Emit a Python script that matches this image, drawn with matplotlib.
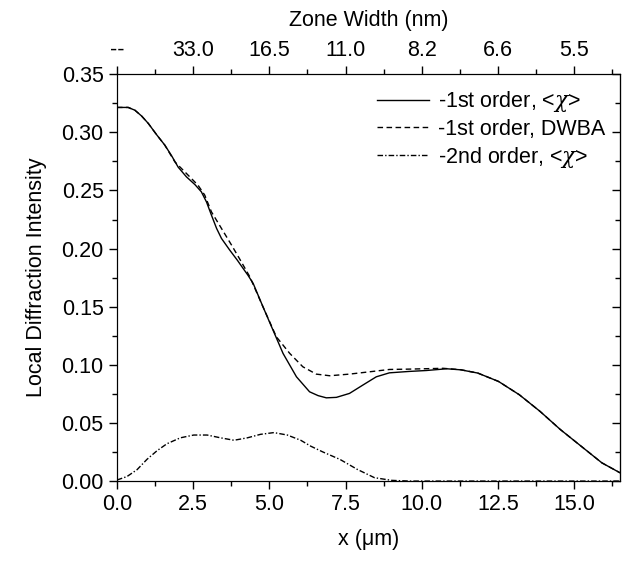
import matplotlib
matplotlib.use('Agg')
import matplotlib.pyplot as plt
from matplotlib.ticker import MultipleLocator, NullFormatter

plt.rcParams['font.family'] = ['Liberation Sans', 'DejaVu Sans']
plt.rcParams['mathtext.fontset'] = 'custom'
plt.rcParams['mathtext.it'] = 'DejaVu Serif:italic'

# -1st order, <chi>
x1 = [0.0, 0.37, 0.59, 0.81, 1.03, 1.30, 1.57, 1.79, 2.01, 2.28, 2.56, 2.77,
      2.94, 3.10, 3.27, 3.43, 3.70, 3.95, 4.14, 4.30, 4.47, 4.79, 5.12, 5.45,
      5.89, 6.32, 6.60, 6.87, 7.20, 7.63, 8.07, 8.51, 8.94, 9.58, 10.15, 10.82,
      11.28, 11.84, 12.52, 13.2, 13.88, 14.55, 15.23, 15.91, 16.5]
y1 = [0.3214, 0.3214, 0.319, 0.314, 0.3076, 0.298, 0.289, 0.280, 0.270, 0.2617,
      0.255, 0.2488, 0.240, 0.2288, 0.2173, 0.2087, 0.1987, 0.190, 0.1829,
      0.177, 0.170, 0.150, 0.1299, 0.1098, 0.0897, 0.0768, 0.0735, 0.0716,
      0.072, 0.0754, 0.0826, 0.0897, 0.0931, 0.0943, 0.0951, 0.0966, 0.0957,
      0.0929, 0.0857, 0.0743, 0.060, 0.0443, 0.030, 0.0157, 0.0072]

# -1st order, DWBA
x2 = [0.0, 0.37, 0.59, 0.81, 1.03, 1.30, 1.57, 1.9, 2.28, 2.66, 2.88, 3.10,
      3.43, 3.76, 4.05, 4.36, 4.79, 5.23, 5.67, 6.10, 6.54, 6.98, 7.63, 8.29,
      8.94, 9.58, 10.7, 11.28, 11.84, 12.52, 13.2, 13.88, 14.55, 15.23, 15.91,
      16.5]
y2 = [0.3214, 0.3214, 0.319, 0.314, 0.3076, 0.298, 0.289, 0.2746, 0.2646,
      0.2545, 0.246, 0.2316, 0.2173, 0.2030, 0.190, 0.1757, 0.150, 0.1241,
      0.1098, 0.0983, 0.092, 0.0906, 0.092, 0.094, 0.096, 0.0963, 0.0970,
      0.0958, 0.0929, 0.0857, 0.0743, 0.060, 0.0443, 0.030, 0.0157, 0.0072]

# -2nd order, <chi>
x3 = [0.0, 0.33, 0.66, 0.99, 1.32, 1.64, 2.08, 2.52, 2.96, 3.40, 3.84, 4.28,
      4.71, 5.15, 5.59, 6.03, 6.36, 6.76, 7.32, 7.89, 8.45, 9.02, 9.6, 12.0,
      16.5]
y3 = [0.0009, 0.0039, 0.0098, 0.0188, 0.0262, 0.0321, 0.0372, 0.0396, 0.0396,
      0.0372, 0.0351, 0.0372, 0.0402, 0.0417, 0.0396, 0.0351, 0.0300, 0.0250,
      0.0186, 0.010, 0.0029, 0.0006, 0.0, 0.0, 0.0]

top_ticks = [0, 2.5, 5, 7.5, 10, 12.5, 15]
top_labels = ['--', '33.0', '16.5', '11.0', '8.2', '6.6', '5.5']

fs = 15.5

fig = plt.figure(figsize=(6.39, 5.62), dpi=100)
ax = fig.add_axes([0.183, 0.144, 0.787, 0.724])

ax.plot(x1, y1, color='black', lw=1.0, ls='-', label=r'-1st order, <$\chi$>')
ax.plot(x2, y2, color='black', lw=1.0, ls=(0, (4, 2.5)), label='-1st order, DWBA')
ax.plot(x3, y3, color='black', lw=1.0, ls=(0, (4, 1.5, 1, 1.5)),
        label=r'-2nd order, <$\chi$>')

ax.set_xlim(0, 16.5)
ax.set_ylim(0, 0.35)
ax.xaxis.set_major_locator(MultipleLocator(2.5))
ax.xaxis.set_minor_locator(MultipleLocator(1.25))
ax.yaxis.set_major_locator(MultipleLocator(0.05))
ax.yaxis.set_minor_locator(MultipleLocator(0.025))
ax.xaxis.set_major_formatter(plt.FormatStrFormatter('%.1f'))
ax.yaxis.set_major_formatter(plt.FormatStrFormatter('%.2f'))
ax.tick_params(which='both', direction='out', labelsize=fs, width=1)
ax.tick_params(which='major', length=6)
ax.tick_params(which='minor', length=3.5)

# right axis: ticks pointing inward, no labels
right = ax.secondary_yaxis('right')
right.yaxis.set_major_locator(MultipleLocator(0.05))
right.yaxis.set_minor_locator(MultipleLocator(0.025))
right.yaxis.set_major_formatter(NullFormatter())
right.tick_params(which='both', direction='in', width=1)
right.tick_params(which='major', length=6)
right.tick_params(which='minor', length=3.5)

ax.set_xlabel('x (\u03bcm)', fontsize=fs, labelpad=10)
ax.set_ylabel('Local Diffraction Intensity', fontsize=fs, labelpad=10)

top = ax.twiny()
top.set_xlim(ax.get_xlim())
top.set_xticks(top_ticks)
top.set_xticklabels(top_labels)
top.xaxis.set_minor_locator(MultipleLocator(1.25))
top.tick_params(which='both', direction='out', labelsize=fs, width=1)
top.tick_params(which='major', length=6)
top.tick_params(which='minor', length=3.5)
top.set_xlabel('Zone Width (nm)', fontsize=fs, labelpad=10)

ax.legend(loc='upper right', frameon=False, fontsize=fs, handlelength=2.4,
          handletextpad=0.4, labelspacing=0.22, borderaxespad=0.3)

fig.savefig('out.png', dpi=100)
